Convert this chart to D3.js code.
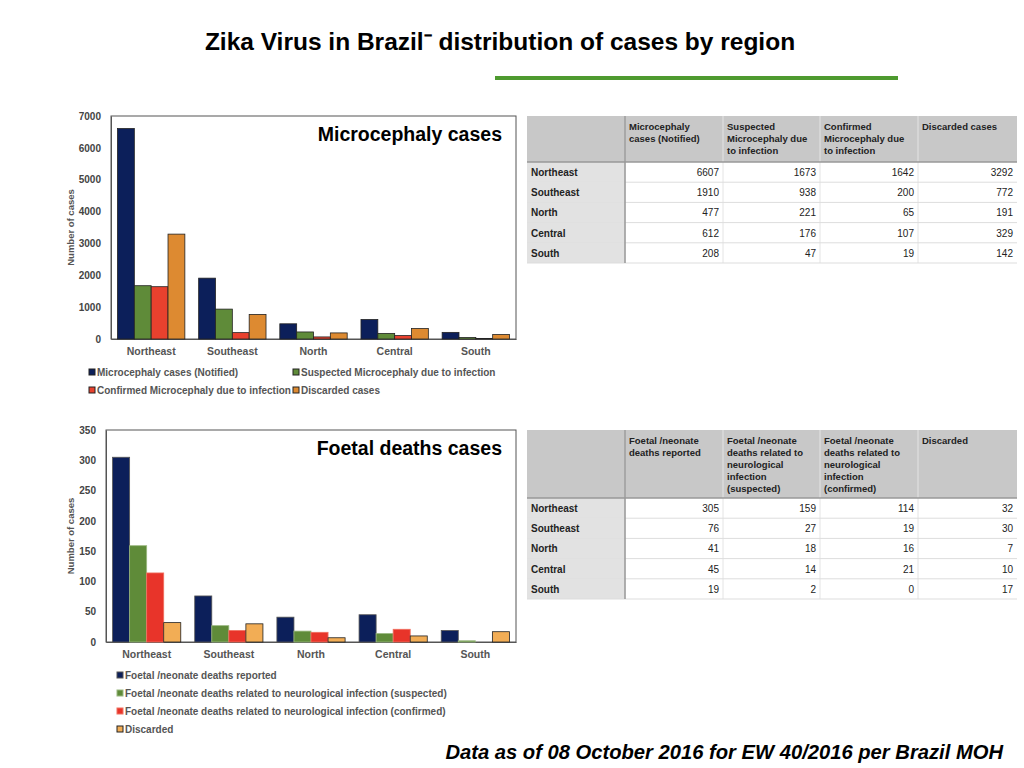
<!DOCTYPE html>
<html><head><meta charset="utf-8">
<script src="https://cdn.jsdelivr.net/npm/d3@7"></script>
<style>body{margin:0;background:#fff;font-family:"Liberation Sans",Arial,sans-serif}</style>
</head><body><svg id="c" width="1024" height="768"></svg>
<script>
const regions = ["Northeast","Southeast","North","Central","South"];
const microSeries = ["Microcephaly cases (Notified)","Suspected Microcephaly due to infection","Confirmed Microcephaly due to infection","Discarded cases"];
const microNotified = [6607,1910,477,612,208];
const microSuspected = [1673,938,221,176,47];
const microConfirmed = [1642,200,65,107,19];
const microDiscarded = [3292,772,191,329,142];
const microTicks = [0,1000,2000,3000,4000,5000,6000,7000];
const microHeaders = ["Microcephaly\ncases (Notified)","Suspected\nMicrocephaly due\nto infection","Confirmed\nMicrocephaly due\nto infection","Discarded cases"];

const foetSeries = ["Foetal /neonate deaths reported","Foetal /neonate deaths related to neurological infection (suspected)","Foetal /neonate deaths related to neurological infection (confirmed)","Discarded"];
const foetReported = [305,76,41,45,19];
const foetSuspected = [159,27,18,14,2];
const foetConfirmed = [114,19,16,21,0];
const foetDiscarded = [32,30,7,10,17];
const foetTicks = [0,50,100,150,200,250,300,350];
const foetHeaders = ["Foetal /neonate\ndeaths reported","Foetal /neonate\ndeaths related to\nneurological\ninfection\n(suspected)","Foetal /neonate\ndeaths related to\nneurological\ninfection\n(confirmed)","Discarded"];

const svg = d3.select("#c");
svg.append("text").attr("x",500).attr("y",50).attr("text-anchor","middle").attr("font-size",24.5).attr("font-weight","bold").attr("font-family","Liberation Sans, Arial").text("Zika Virus in Brazil⁻  distribution of cases by region");
svg.append("line").attr("x1",495).attr("x2",898).attr("y1",78).attr("y2",78).attr("stroke","#4e9a2f").attr("stroke-width",4);
svg.append("text").attr("x",1003).attr("y",759).attr("text-anchor","end").attr("font-size",20.2).attr("font-weight","bold").attr("font-style","italic").text("Data as of 08 October 2016 for EW 40/2016 per Brazil MOH");

function chart(o){
  const g = svg.append("g");
  const x = d3.scaleBand().domain(regions).range([o.x0,o.x1]).paddingInner(0.17).paddingOuter(0.08);
  const xs = d3.scaleBand().domain(d3.range(4)).range([0,x.bandwidth()]);
  const y = d3.scaleLinear().domain([0,o.max]).range([o.y1,o.y0]);
  g.append("rect").attr("x",o.x0).attr("y",o.y0).attr("width",o.x1-o.x0).attr("height",o.y1-o.y0).attr("fill","none").attr("stroke","#555").attr("stroke-width",1);
  const ya = g.append("g").attr("transform",`translate(${o.x0},0)`).call(d3.axisLeft(y).tickValues(o.ticks).tickFormat(d3.format("d")).tickSize(0).tickPadding(10));
  ya.select(".domain").attr("stroke","#555");
  ya.selectAll("text").attr("font-size",10).attr("font-weight","bold").attr("fill","#444").attr("font-family","Liberation Sans, Arial");
  const xa = g.append("g").attr("transform",`translate(0,${o.y1})`).call(d3.axisBottom(x).tickSize(0).tickPadding(9));
  xa.select(".domain").attr("stroke","#555");
  xa.selectAll("text").attr("font-size",10.5).attr("font-weight","bold").attr("fill","#555").attr("font-family","Liberation Sans, Arial");
  g.append("text").attr("transform",`translate(${o.ax},${(o.y0+o.y1)/2}) rotate(-90)`).attr("text-anchor","middle").attr("font-size",9.5).attr("font-weight","bold").attr("fill","#555").text("Number of cases");
  o.series.forEach((vals,si)=>{
    g.selectAll(null).data(vals).join("rect")
      .attr("x",(d,i)=>x(regions[i])+xs(si)).attr("width",xs.bandwidth())
      .attr("y",d=>y(d)).attr("height",d=>o.y1-y(d))
      .attr("fill",o.colors[si]).attr("stroke",o.strokes[si]).attr("stroke-width",0.8);
  });
  g.append("text").attr("x",o.x1-14).attr("y",o.y0+25).attr("text-anchor","end").attr("font-size",19.5).attr("font-weight","bold").text(o.title);
  o.names.forEach((n,i)=>{
    const [lx,ly]=o.leg[i];
    g.append("rect").attr("x",lx).attr("y",ly-7).attr("width",6).attr("height",6).attr("fill",o.colors[i]).attr("stroke",o.strokes[i]);
    g.append("text").attr("x",lx+8).attr("y",ly).attr("font-size",10).attr("font-weight","bold").attr("fill","#555").text(n);
  });
}
chart({x0:111,x1:516,y0:116,y1:339,max:7000,ticks:microTicks,title:"Microcephaly cases",ax:74,
  series:[microNotified,microSuspected,microConfirmed,microDiscarded],names:microSeries,
  colors:["#0c1f5a","#5f8b39","#e8412e","#dd8a31"],strokes:["#222","#222","#222","#222"],
  leg:[[89,376],[293,376],[89,394],[293,394]]});
chart({x0:106,x1:516,y0:430,y1:642,max:350,ticks:foetTicks,title:"Foetal deaths cases",ax:74,
  series:[foetReported,foetSuspected,foetConfirmed,foetDiscarded],names:foetSeries,
  colors:["#0c1f5a","#5f8b39","#e8342a","#f2ad55"],strokes:["#555","#9ab880","#f07060","#222"],
  leg:[[117,679],[117,697],[117,715],[117,733]]});

function table(o){
  const g = svg.append("g");
  const cols=[527,625,723,820,918,1017];
  g.append("rect").attr("x",527).attr("y",o.y0).attr("width",490).attr("height",o.hh).attr("fill","#c8c8c8");
  o.headers.forEach((h,i)=>{
    h.split("\n").forEach((ln,j)=>g.append("text").attr("x",cols[i+1]+4).attr("y",o.y0+14+j*12).attr("font-size",9.5).attr("font-weight","bold").attr("fill","#222").text(ln));
    g.append("line").attr("x1",cols[i+1]).attr("x2",cols[i+1]).attr("y1",o.y0).attr("y2",o.y0+o.hh+5*20.2).attr("stroke","#e4e4e4");
  });
  regions.forEach((r,ri)=>{
    const ry=o.y0+o.hh+ri*20.2;
    g.append("rect").attr("x",527).attr("y",ry).attr("width",98).attr("height",20.2).attr("fill","#e2e2e2");
    g.append("line").attr("x1",527).attr("x2",1017).attr("y1",ry+20.2).attr("y2",ry+20.2).attr("stroke","#ddd");
    g.append("text").attr("x",531).attr("y",ry+14).attr("font-size",10).attr("font-weight","bold").attr("fill","#222").text(r);
    o.series.forEach((s,si)=>g.append("text").attr("x",cols[si+2]-4).attr("y",ry+14).attr("text-anchor","end").attr("font-size",10).attr("fill","#222").text(s[ri]));
  });
  g.append("line").attr("x1",625).attr("x2",625).attr("y1",o.y0).attr("y2",o.y0+o.hh+5*20.2).attr("stroke","#999").attr("stroke-width",1.5);
  g.append("line").attr("x1",527).attr("x2",1017).attr("y1",o.y0+o.hh).attr("y2",o.y0+o.hh).attr("stroke","#999").attr("stroke-width",1.5);
}
table({y0:116,hh:46,headers:microHeaders,series:[microNotified,microSuspected,microConfirmed,microDiscarded]});
table({y0:430,hh:68,headers:foetHeaders,series:[foetReported,foetSuspected,foetConfirmed,foetDiscarded]});
</script></body></html>
